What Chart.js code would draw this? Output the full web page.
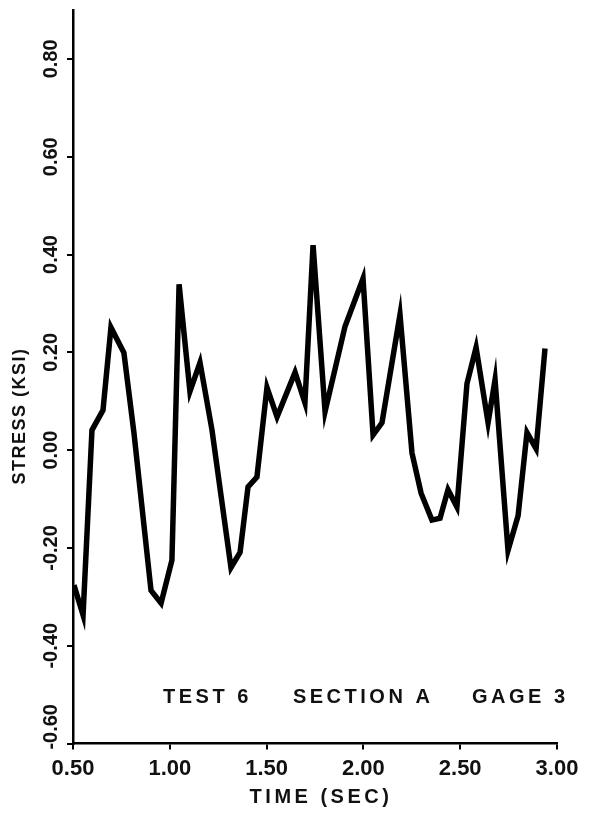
<!DOCTYPE html>
<html>
<head>
<meta charset="utf-8">
<script src="https://cdn.jsdelivr.net/npm/chart.js@4/dist/chart.umd.min.js"></script>
<style>
  html, body { margin: 0; padding: 0; background: #fff; }
  #wrap { width: 598px; height: 816px; }
</style>
</head>
<body>
<div id="wrap"><canvas id="stressChart" width="598" height="816"></canvas></div>
<script>
// time (sec) and stress (ksi), vertex by vertex
const times = [0.505, 0.552, 0.598, 0.655, 0.696, 0.763, 0.815, 0.903, 0.955, 1.011,
  1.048, 1.104, 1.156, 1.218, 1.316, 1.363, 1.404, 1.450, 1.502, 1.554,
  1.647, 1.698, 1.740, 1.802, 1.905, 1.998, 2.050, 2.096, 2.189, 2.251,
  2.298, 2.354, 2.396, 2.437, 2.483, 2.535, 2.582, 2.644, 2.680, 2.747,
  2.799, 2.845, 2.892, 2.938];
const stress = [-0.276, -0.337, 0.041, 0.082, 0.251, 0.199, 0.035, -0.287, -0.313, -0.225,
  0.339, 0.120, 0.179, 0.041, -0.240, -0.209, -0.075, -0.055, 0.128, 0.068,
  0.159, 0.097, 0.419, 0.079, 0.253, 0.351, 0.031, 0.056, 0.277, -0.006,
  -0.088, -0.143, -0.139, -0.081, -0.116, 0.136, 0.210, 0.056, 0.144, -0.205,
  -0.134, 0.036, 0.003, 0.208];

const xTicks = [0.5, 1.0, 1.5, 2.0, 2.5, 3.0];
const yTicks = [-0.6, -0.4, -0.2, 0.0, 0.2, 0.4, 0.6, 0.8];

const xTitle = 'TIME (SEC)';
const yTitle = 'STRESS (KSI)';
// note text pieces and where they start (time, stress)
const noteText = ['TEST 6', 'SECTION A', 'GAGE 3'];
const noteTime = [0.965, 1.636, 2.561];
const noteStress = -0.505;

const FONT = '"Liberation Sans", Arial, sans-serif';

// draws the rotated y labels, axis titles and the test note
const paperText = {
  id: 'paperText',
  afterDraw(chart) {
    const ctx = chart.ctx;
    const x = chart.scales.x;
    const y = chart.scales.y;
    ctx.save();
    ctx.fillStyle = '#111';

    // y tick labels, read bottom to top
    ctx.font = 'bold 20px ' + FONT;
    ctx.textAlign = 'center';
    ctx.textBaseline = 'middle';
    y.ticks.forEach(t => {
      const label = t.value.toFixed(2);
      const half = ctx.measureText(label).width / 2;
      let py = y.getPixelForValue(t.value);
      if (py + half > y.bottom + 6) py = y.bottom + 6 - half;
      ctx.save();
      ctx.translate(y.right - 22, py);
      ctx.rotate(-Math.PI / 2);
      ctx.fillText(label, 0, 0);
      ctx.restore();
    });

    // y title
    ctx.font = 'bold 18px ' + FONT;
    ctx.letterSpacing = '1.5px';
    ctx.save();
    ctx.translate(20, y.getPixelForValue(0.07));
    ctx.rotate(-Math.PI / 2);
    ctx.fillText(yTitle, 0, 0);
    ctx.restore();

    // x title
    ctx.font = 'bold 20px ' + FONT;
    ctx.letterSpacing = '3.5px';
    ctx.fillText(xTitle, (x.left + x.right) / 2 + 6, 797);

    // note
    ctx.textAlign = 'left';
    noteText.forEach((s, i) => {
      ctx.fillText(s, x.getPixelForValue(noteTime[i]), y.getPixelForValue(noteStress));
    });
    ctx.restore();
  }
};

const points = times.map((t, i) => ({ x: t, y: stress[i] }));

new Chart(document.getElementById('stressChart'), {
  type: 'line',
  data: {
    datasets: [{
      data: points,
      borderColor: '#000',
      borderWidth: 5.5,
      pointRadius: 0,
      tension: 0,
      fill: false
    }]
  },
  options: {
    responsive: false,
    animation: false,
    devicePixelRatio: 1,
    layout: { padding: { left: 67, right: 41, top: 10, bottom: 28 } },
    plugins: {
      legend: { display: false },
      tooltip: { enabled: false }
    },
    scales: {
      x: {
        type: 'linear',
        min: 0.5,
        max: 3.0,
        afterBuildTicks: axis => { axis.ticks = xTicks.map(v => ({ value: v })); },
        grid: { display: true, drawOnChartArea: false, drawTicks: true, tickLength: 6, color: '#000', lineWidth: 2 },
        border: { display: true, color: '#000', width: 2.5 },
        ticks: {
          color: '#111',
          padding: 6,
          maxRotation: 0,
          font: { family: FONT, size: 22, weight: 'bold' },
          callback: v => Number(v).toFixed(2)
        }
      },
      y: {
        type: 'linear',
        min: -0.6,
        max: 0.9,
        afterBuildTicks: axis => { axis.ticks = yTicks.map(v => ({ value: v })); },
        grid: { display: true, drawOnChartArea: false, drawTicks: true, tickLength: 6, color: '#000', lineWidth: 2 },
        border: { display: true, color: '#000', width: 2.5 },
        ticks: { display: false }
      }
    }
  },
  plugins: [paperText]
});
</script>
</body>
</html>
